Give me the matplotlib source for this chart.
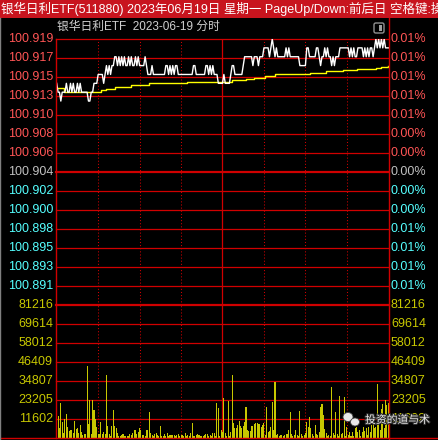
import matplotlib.pyplot as plt
import matplotlib.patheffects as pe
from matplotlib.lines import Line2D
from matplotlib.patches import Rectangle, FancyBboxPatch, Ellipse

plt.rcParams['font.family'] = ['Liberation Sans', 'Noto Sans CJK SC', 'DejaVu Sans']

title = "银华日利ETF(511880) 2023年06月19日 星期一 PageUp/Down:前后日 空格键:操作"
subtitle = "银华日利ETF  2023-06-19 分时"
watermark = "投资的道与术"

prev_close = 100.904
price_top = 100.919
price_labels = ["100.919", "100.917", "100.915", "100.913", "100.910", "100.908", "100.906",
                "100.904", "100.902", "100.900", "100.898", "100.895", "100.893", "100.891"]
pct_labels = ["0.01%", "0.01%", "0.01%", "0.01%", "0.01%", "0.00%", "0.00%",
              "0.00%", "0.00%", "0.00%", "0.01%", "0.01%", "0.01%", "0.01%"]
vol_top = 81216
vol_labels = ["81216", "69614", "58012", "46409", "34807", "23205", "11602"]

# last price per minute, 9:30 .. 15:00
prices = [
    100.914, 100.913, 100.913, 100.912, 100.913, 100.913, 100.913, 100.914, 100.913, 100.913,
    100.914, 100.913, 100.914, 100.913, 100.913, 100.914, 100.913, 100.914, 100.913, 100.913,
    100.913, 100.913, 100.913, 100.912, 100.912, 100.913, 100.913, 100.914, 100.914, 100.914,
    100.915, 100.915, 100.915, 100.915, 100.914, 100.915, 100.916, 100.915, 100.916, 100.915,
    100.916, 100.916, 100.917, 100.917, 100.916, 100.917, 100.916, 100.917, 100.916, 100.917,
    100.916, 100.916, 100.917, 100.916, 100.917, 100.916, 100.916, 100.917, 100.916, 100.917,
    100.916, 100.916, 100.916, 100.916, 100.917, 100.916, 100.915, 100.915, 100.915, 100.916,
    100.915, 100.915, 100.915, 100.915, 100.915, 100.915, 100.915, 100.915, 100.915, 100.916,
    100.916, 100.915, 100.916, 100.915, 100.916, 100.915, 100.916, 100.916, 100.915, 100.915,
    100.915, 100.915, 100.915, 100.915, 100.915, 100.915, 100.915, 100.915, 100.915, 100.916,
    100.916, 100.915, 100.915, 100.915, 100.915, 100.915, 100.915, 100.915, 100.916, 100.916,
    100.915, 100.916, 100.915, 100.916, 100.915, 100.915, 100.915, 100.914, 100.914, 100.914,
    100.914, 100.915, 100.914, 100.914, 100.914, 100.914, 100.915, 100.916, 100.916, 100.915,
    100.915, 100.915, 100.915, 100.915, 100.915, 100.916, 100.917, 100.917, 100.917, 100.917,
    100.917, 100.917, 100.916, 100.917, 100.917, 100.917, 100.916, 100.917, 100.917, 100.917,
    100.918, 100.918, 100.918, 100.918, 100.917, 100.918, 100.919, 100.918, 100.917, 100.918,
    100.917, 100.917, 100.917, 100.917, 100.917, 100.917, 100.918, 100.917, 100.918, 100.917,
    100.917, 100.917, 100.917, 100.917, 100.917, 100.917, 100.916, 100.916, 100.916, 100.916,
    100.916, 100.918, 100.918, 100.917, 100.917, 100.917, 100.917, 100.917, 100.918, 100.918,
    100.917, 100.916, 100.917, 100.917, 100.918, 100.917, 100.918, 100.917, 100.917, 100.916,
    100.917, 100.916, 100.917, 100.917, 100.917, 100.918, 100.918, 100.918, 100.918, 100.918,
    100.918, 100.918, 100.917, 100.918, 100.917, 100.918, 100.917, 100.917, 100.918, 100.918,
    100.918, 100.918, 100.917, 100.918, 100.917, 100.918, 100.917, 100.918, 100.918, 100.917,
    100.918, 100.919, 100.918, 100.919, 100.918, 100.919, 100.918, 100.919, 100.918, 100.918,
    100.918,
]

# average price line, read at its steps
avg_minutes = [0, 5, 30, 32, 36, 42, 54, 67, 94, 127, 137, 143, 151, 158, 168, 183, 195, 207, 217, 231, 235, 240]
avg_prices = [100.9135, 100.9130, 100.9130, 100.9133, 100.9134, 100.9136, 100.9138, 100.9140, 100.9142,
              100.9144, 100.9145, 100.9146, 100.9148, 100.9150, 100.9151, 100.9152, 100.9154, 100.9155,
              100.9156, 100.9157, 100.9158, 100.9160]

volumes = [
    74000, 13400, 6000, 21500, 10000, 3000, 11400, 14600, 6500, 4500,
    5000, 5000, 3000, 10400, 5500, 6000, 3000, 8000, 3900, 2000,
    2400, 2400, 44000, 8500, 23200, 2400, 23200, 17100, 11600, 6900,
    2400, 2400, 9800, 2400, 3900, 2400, 38500, 7300, 2400, 1200,
    7300, 17100, 7300, 5900, 2800, 1200, 1200, 1800, 2400, 1200,
    1200, 1200, 1200, 2400, 1800, 2800, 4900, 4900, 2400, 3900,
    5900, 4900, 1800, 1800, 1200, 4900, 4900, 16100, 2800, 1800,
    1200, 2400, 2800, 1800, 1200, 7300, 1200, 1200, 2400, 1200,
    2800, 1200, 1800, 1800, 1800, 1800, 1200, 1800, 2400, 1200,
    1800, 1800, 1200, 3200, 1200, 1800, 1200, 3200, 9400, 1200,
    1200, 1800, 2400, 1800, 1200, 1200, 1200, 1800, 2400, 2400,
    1200, 1800, 1200, 2800, 2800, 1200, 21600, 18300, 1200, 4900,
    3900, 24600, 3200, 1200, 22600, 1200, 3900, 38500, 9400, 5900,
    5900, 7900, 10400, 7300, 5900, 7300, 10000, 18900, 4900, 4500,
    4500, 7300, 7300, 8500, 8900, 9400, 8500, 8500, 6900, 7900,
    8900, 1800, 19100, 3900, 4500, 6900, 22200, 4900, 34200, 1800,
    2400, 1200, 1800, 1800, 1200, 1800, 2400, 2400, 4900, 15900,
    2400, 1200, 1800, 4900, 1800, 1200, 16500, 2400, 1200, 1800,
    3200, 9800, 6900, 12600, 5900, 2400, 1200, 7900, 2400, 1800,
    3900, 19100, 20800, 14000, 5300, 3200, 1200, 1800, 1200, 31300,
    2800, 1800, 16100, 2400, 1200, 25600, 2400, 2800, 25200, 1200,
    6900, 1800, 3900, 1200, 3900, 1200, 5900, 6900, 3900, 4900,
    1200, 3900, 6900, 4500, 5900, 1800, 6900, 3900, 7900, 10000,
    5900, 6900, 33000, 8900, 4900, 17500, 20800, 5900, 23200, 20200,
    21200,
]
minutes = list(range(len(prices)))

W, H = 439, 440
RED = '#D00000'
UP = '#FF5555'
DOWN = '#55FFFF'
FLAT = '#C0C0C0'
VOLC = '#C8C800'


def fx(px):
    return px / W


def fy(py):
    return 1 - py / H


fig = plt.figure(figsize=(W / 100, H / 100), dpi=100, facecolor='black')

L, R, T, M, B = 56, 389, 39, 305, 438
ax = fig.add_axes([fx(L), fy(M), (R - L) / W, (M - T) / H])
axv = fig.add_axes([fx(L), fy(B), (R - L) / W, (B - M) / H])
half = price_top - prev_close
for a in (ax, axv):
    a.set_facecolor('black')
    a.set_xlim(-0.5, 240.5)
    a.set_xticks([])
    a.set_yticks([])
    for s in a.spines.values():
        s.set_visible(False)
ax.set_ylim(prev_close - half, price_top)
axv.set_ylim(0, vol_top)

# price grid and labels
step = half / 7
for i, (lab, pct) in enumerate(zip(price_labels, pct_labels)):
    y = price_top - i * step
    if y > prev_close + 1e-9:
        c = UP
    elif y < prev_close - 1e-9:
        c = DOWN
    else:
        c = FLAT
    ax.axhline(y, color=RED, lw=1.6 if abs(y - prev_close) < 1e-9 else 0.9, clip_on=False, zorder=1)
    ax.text(-0.009, y, lab, transform=ax.get_yaxis_transform(), ha='right', va='center',
            color=c, fontsize=9)
    ax.text(1.006, y, pct, transform=ax.get_yaxis_transform(), ha='left', va='center',
            color=c, fontsize=9)

vstep = vol_top / 7
for i, lab in enumerate(vol_labels):
    y = vol_top - i * vstep
    axv.axhline(y, color=RED, lw=1.6 if i == 0 else 0.9, clip_on=False, zorder=1)
    axv.text(-0.009, y, lab, transform=axv.get_yaxis_transform(), ha='right', va='center',
             color=VOLC, fontsize=9)
    axv.text(1.006, y, lab, transform=axv.get_yaxis_transform(), ha='left', va='center',
             color=VOLC, fontsize=9, zorder=1)

for a in (ax, axv):
    for xm in (30, 60, 90, 150, 180, 210):
        a.axvline(xm, color=RED, lw=0.75, ls=(0, (1, 2)), zorder=1)
    a.axvline(120, color=RED, lw=0.9, zorder=1)

# lines
ax.plot(minutes, prices, color='white', lw=1.0, zorder=3)
ax.plot(avg_minutes, avg_prices, color='#FFFF00', lw=1.0, drawstyle='steps-post', zorder=2)
axv.bar(minutes, volumes, width=0.75, color=VOLC, lw=0, zorder=2)

# frame
fig.add_artist(Line2D([fx(L), fx(L)], [fy(T), fy(B)], color=RED, lw=1.0))
fig.add_artist(Line2D([fx(R), fx(R)], [fy(18), 0], color=RED, lw=1.0))
fig.add_artist(Line2D([0, 1], [fy(B), fy(B)], color=RED, lw=1.0))
fig.add_artist(Line2D([fx(0.5), fx(0.5)], [fy(18), 0], color='#808080', lw=1.0))

# title bar (text runs past the right edge, as in the screenshot)
fig.add_artist(Rectangle((0, fy(18)), 1, 18 / H, transform=fig.transFigure,
                         facecolor='#C8141E', edgecolor='none'))
fig.text(fx(1), fy(9), title, color='white', fontsize=9.0, ha='left', va='center')
fig.text(fx(57), fy(27), subtitle, color='#D0D0D0', fontsize=8.5, ha='left', va='center')
fig.add_artist(FancyBboxPatch((fx(374), fy(33)), 10 / W, 10 / H, transform=fig.transFigure,
                              boxstyle='round,pad=0,rounding_size=0.004',
                              facecolor='black', edgecolor='#909090', lw=1.0))
fig.add_artist(Rectangle((fx(379.5), fy(31)), 3 / W, 6 / H, transform=fig.transFigure,
                         facecolor='#A0A0A0', edgecolor='none'))

# watermark (lies over the right-hand 11602 label, as in the source screenshot)
fig.add_artist(Ellipse((fx(348), fy(417)), 10 / W, 9 / H, transform=fig.transFigure,
                       facecolor='#E8E8E8', edgecolor='#404040', lw=0.6))
fig.add_artist(Ellipse((fx(355), fy(422)), 9 / W, 8 / H, transform=fig.transFigure,
                       facecolor='#E8E8E8', edgecolor='#404040', lw=0.6))
fig.text(fx(365), fy(420), watermark, color='#E8E8E8', fontsize=7.8, ha='left', va='center',
         path_effects=[pe.withStroke(linewidth=1.5, foreground='#303030')])

fig.savefig('out.png', dpi=100, facecolor='black')
